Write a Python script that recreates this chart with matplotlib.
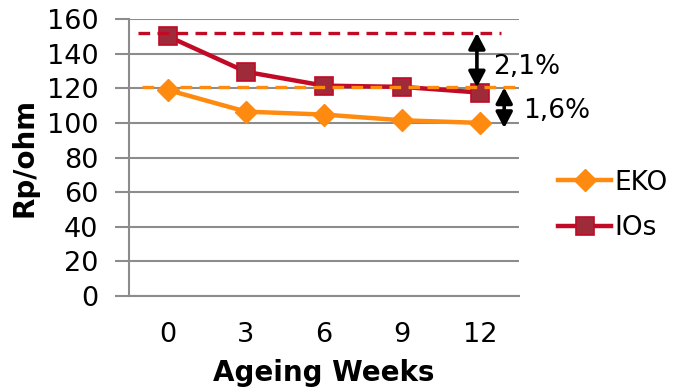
import matplotlib
matplotlib.use("Agg")
import matplotlib.pyplot as plt
from matplotlib.lines import Line2D

weeks = ["0", "3", "6", "9", "12"]
eko = [119, 106.5, 104.8, 101.5, 100]
ios = [150, 129.5, 121.5, 120.8, 117.5]
ios_ref = 152
eko_ref = 120.5
eko_low = 97
gap_labels = ["2,1%", "1,6%"]
yticks = [0, 20, 40, 60, 80, 100, 120, 140, 160]

C_EKO = "#FF8A10"
C_IOS = "#C00A26"
C_IOS_FACE = "#9E2A3A"
GRID = "#8C8C8C"

plt.rcParams["font.family"] = ["DejaVu Sans"]
fig = plt.figure(figsize=(6.76, 3.92), dpi=100)
ax = fig.add_axes([0.1908, 0.2449, 0.577, 0.7066])

x = list(range(len(weeks)))
ax.plot(x, eko, color=C_EKO, lw=3.2, marker="D", ms=11, mfc=C_EKO, mec=C_EKO,
        zorder=3, clip_on=False)
ax.plot(x, ios, color=C_IOS, lw=3.2, marker="s", ms=12.5, mfc=C_IOS_FACE, mec=C_IOS,
        mew=1.2, zorder=3, clip_on=False)

# reference levels
ax.plot([-0.385, 4.27], [ios_ref, ios_ref], color=C_IOS, lw=2.4, ls=(0, (3.5, 2.2)),
        zorder=4, clip_on=False)
ax.plot([-0.33, 4.51], [eko_ref, eko_ref], color=C_EKO, lw=2.4, ls=(0, (3.5, 2.2)),
        zorder=4, clip_on=False)

# gap arrows
arrow_kw = dict(arrowstyle="<|-|>,head_length=0.95,head_width=0.5", color="black", lw=2.6,
                shrinkA=0, shrinkB=0)
ax.annotate("", xy=(3.96, ios_ref), xytext=(3.96, eko_ref), arrowprops=arrow_kw,
            annotation_clip=False, zorder=5)
ax.annotate("", xy=(4.31, eko_ref), xytext=(4.31, eko_low), arrowprops=arrow_kw,
            annotation_clip=False, zorder=5)
ax.text(4.17, 132, gap_labels[0], fontsize=19, va="center", ha="left")
ax.text(4.55, 107, gap_labels[1], fontsize=19, va="center", ha="left")

ax.set_xlim(-0.5, 4.5)
ax.set_ylim(0, 160)
ax.set_yticks(yticks)
ax.set_xticks(x)
ax.set_xticklabels(weeks)
ax.tick_params(axis="y", length=10, width=1.5, color=GRID, labelsize=19.5, pad=12)
ax.tick_params(axis="x", length=0, labelsize=19.5, pad=19)
ax.grid(axis="y", color=GRID, lw=1.5)
ax.set_axisbelow(True)
for s in ["top", "right"]:
    ax.spines[s].set_visible(False)
for s in ["left", "bottom"]:
    ax.spines[s].set_color(GRID)
    ax.spines[s].set_linewidth(1.5)

ax.set_ylabel("Rp/ohm", fontsize=20, fontweight="bold", labelpad=6)
ax.set_xlabel("Ageing Weeks", fontsize=20, fontweight="bold", labelpad=8)

handles = [
    Line2D([], [], color=C_EKO, lw=3.2, marker="D", ms=11, mfc=C_EKO, mec=C_EKO),
    Line2D([], [], color=C_IOS, lw=3.2, marker="s", ms=12.5, mfc=C_IOS_FACE, mec=C_IOS, mew=1.2),
]
fig.legend(handles, ["EKO", "IOs"], loc="center left", bbox_to_anchor=(0.81, 0.476),
           frameon=False, fontsize=19, handlelength=2.0, handletextpad=0.15,
           labelspacing=0.75, borderaxespad=0)

fig.savefig("out.png", dpi=100)
